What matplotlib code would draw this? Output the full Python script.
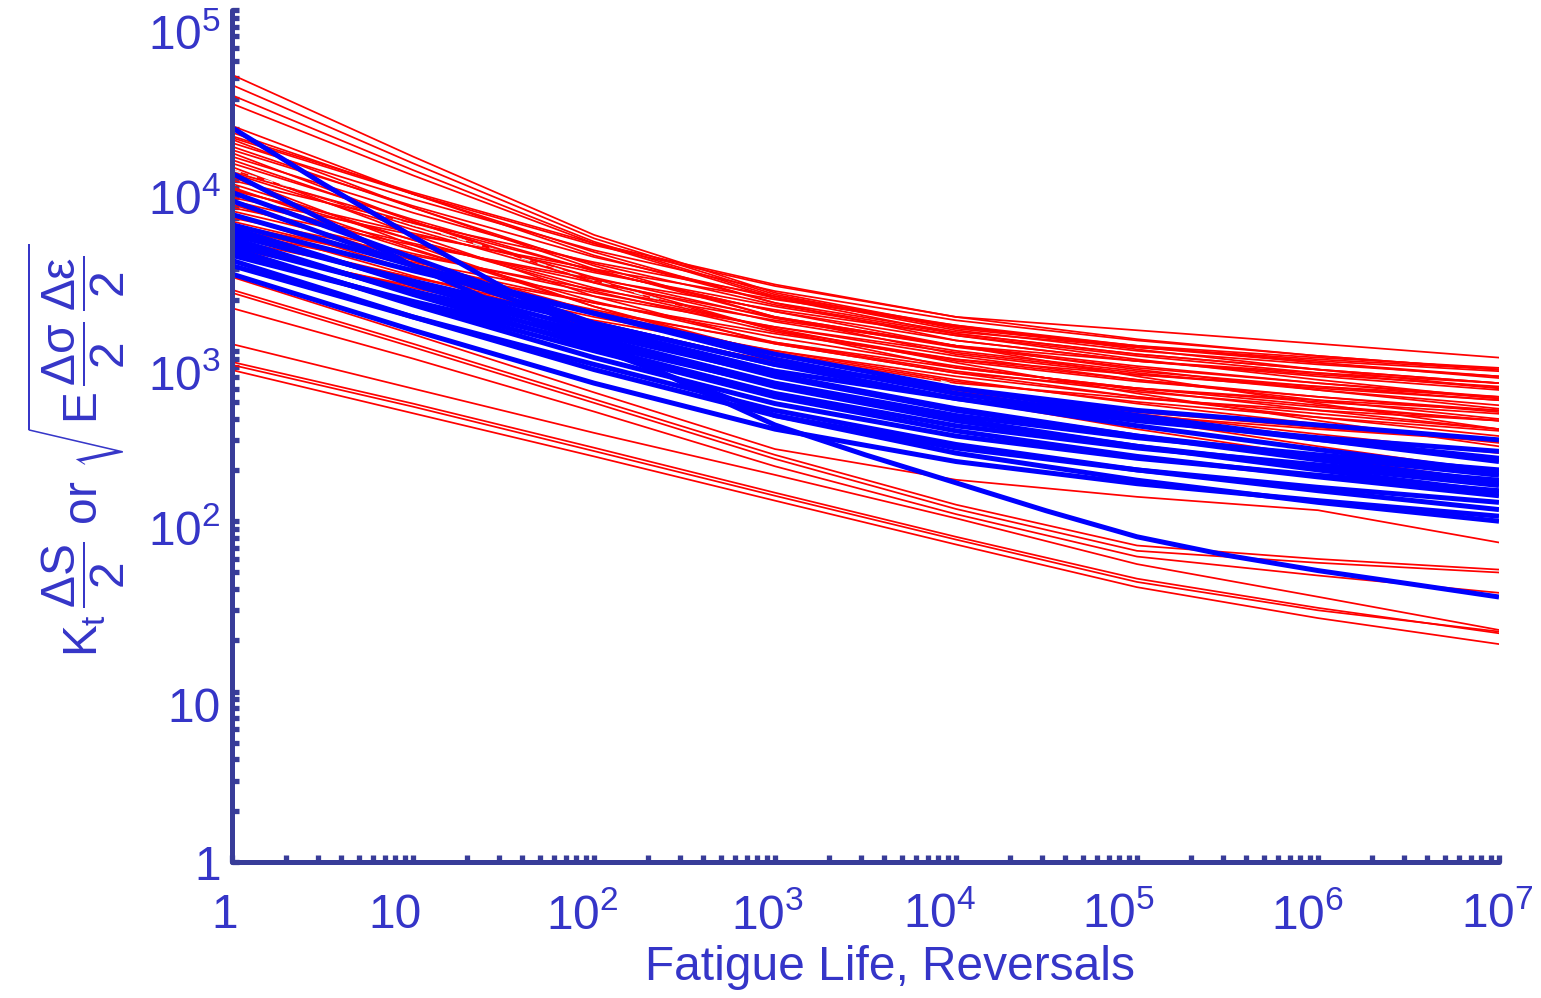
import numpy as np
import matplotlib.pyplot as plt
import matplotlib.transforms as mtransforms
from matplotlib.ticker import LogLocator, NullFormatter

plt.rcParams['font.family'] = ['Liberation Sans', 'DejaVu Sans']
plt.rcParams['mathtext.fontset'] = 'custom'
plt.rcParams['mathtext.rm'] = 'Liberation Sans'
plt.rcParams['mathtext.it'] = 'Liberation Sans'
plt.rcParams['mathtext.sf'] = 'Liberation Sans'
plt.rcParams['mathtext.bf'] = 'Liberation Sans:bold'

axis_color = '#383c99'
text_color = '#3535c8'

# fatigue life points (reversals) where every curve is sampled
reversals = [1, 1e1, 1e2, 1e3, 1e4, 1e5, 1e6, 1e7]

# notched-specimen curves, highest starting group
red_high = [
    [41700, 13800, 4790, 2190, 1380, 1070, 912, 794],
    [36300, 12600, 4570, 2140, 1350, 1050, 871, 759],
    [31600, 11500, 4370, 2090, 1320, 1000, 832, 708],
    [28200, 10700, 4270, 2040, 1260, 955, 776, 646],
]

# main band of notched-specimen curves
red_band = [
    [17800, 8320, 4170, 2400, 1580, 1320, 1100, 912],
    [20900, 8320, 3630, 1910, 1290, 1050, 891, 776],
    [19100, 8320, 3800, 1910, 1150, 871, 724, 617],
    [18200, 8510, 4270, 2450, 1580, 1170, 933, 776],
    [17400, 6920, 3020, 1580, 1070, 871, 741, 646],
    [16600, 7760, 3890, 2240, 1510, 1150, 933, 776],
    [15800, 6920, 3160, 1580, 955, 724, 603, 513],
    [15100, 7080, 3550, 2040, 1380, 1050, 851, 708],
    [14500, 5750, 2510, 1320, 891, 724, 617, 537],
    [13800, 6460, 3240, 1860, 1260, 955, 776, 646],
    [13200, 5750, 2630, 1320, 794, 603, 501, 427],
    [12600, 5890, 2950, 1700, 1150, 871, 708, 589],
    [12000, 4790, 2090, 1100, 741, 603, 513, 447],
    [11500, 5370, 2690, 1550, 1050, 794, 646, 537],
    [11000, 5130, 2570, 1480, 1000, 759, 617, 513],
    [10500, 4170, 1820, 955, 646, 525, 447, 389],
    [10000, 5620, 3310, 2090, 1410, 1020, 776, 603],
    [9550, 4470, 2240, 1290, 871, 661, 537, 447],
    [9120, 3980, 1820, 912, 550, 417, 347, 295],
    [8710, 4900, 2880, 1820, 1230, 891, 676, 525],
    [8320, 3890, 1950, 1120, 759, 575, 468, 389],
    [7940, 4790, 3020, 2000, 1410, 1070, 851, 692],
    [7590, 4270, 2510, 1580, 1070, 776, 589, 457],
    [7240, 3390, 1700, 977, 661, 501, 407, 339],
    [6920, 4170, 2630, 1740, 1230, 933, 741, 603],
    [6610, 3720, 2190, 1380, 933, 676, 513, 398],
    [6310, 2950, 1480, 851, 575, 437, 355, 295],
    [6030, 3630, 2290, 1510, 1070, 813, 646, 525],
    [5750, 3240, 1910, 1200, 813, 589, 447, 347],
    [5500, 3310, 2090, 1380, 977, 741, 589, 479],
    [5250, 2950, 1740, 1100, 741, 537, 407, 316],
    [5010, 3020, 1910, 1260, 891, 676, 537, 437],
    [4790, 2690, 1580, 1000, 676, 490, 372, 288],
    [4470, 2690, 1700, 1120, 794, 603, 479, 389],
    [4170, 2340, 1380, 871, 589, 427, 324, 251],
    [3980, 2400, 1510, 1000, 708, 537, 427, 347],
    [6310, 3160, 1660, 955, 603, 398, 275, 195],
    [5500, 2750, 1450, 832, 525, 347, 240, 170],
    [11200, 5620, 2950, 1700, 1070, 708, 490, 347],
    [8910, 4470, 2340, 1350, 851, 562, 389, 275],
]

# lowest notched-specimen curves
red_low = [
    [2710, 1250, 570, 265, 175, 139, 116, 75],
    [2280, 1100, 520, 245, 125, 72, 60, 52],
    [2190, 1050, 495, 232, 118, 67, 57, 50],
    [1780, 900, 440, 210, 110, 62, 48, 38],
    [1095, 600, 330, 187, 104, 56, 36, 23],
    [860, 490, 270, 147, 81, 46, 31, 22],
    [826, 470, 258, 141, 78, 44, 30, 22.5],
    [771, 430, 240, 132, 73, 41, 27, 19],
]

# smooth-specimen curves
blue_curves = [
    [11000, 3160, 1050, 417, 251, 174, 129, 100],
    [8510, 3510, 1450, 832, 603, 447, 367, 300],
    [7590, 3160, 1380, 759, 525, 389, 309, 257],
    [6310, 3160, 1660, 891, 562, 398, 302, 234],
    [5500, 2950, 1660, 955, 603, 417, 302, 224],
    [5250, 2450, 1200, 646, 417, 309, 245, 200],
    [5010, 2510, 1320, 708, 447, 316, 240, 186],
    [4790, 2570, 1450, 832, 525, 363, 263, 195],
    [4570, 2140, 1050, 562, 363, 269, 214, 174],
    [4370, 2190, 1150, 617, 389, 275, 209, 162],
    [4170, 2240, 1260, 724, 457, 316, 229, 170],
    [3980, 1860, 912, 490, 316, 234, 186, 151],
    [3800, 1910, 1000, 537, 339, 240, 182, 141],
    [3630, 1950, 1100, 631, 398, 275, 200, 148],
    [3390, 1580, 776, 417, 269, 200, 158, 129],
    [3160, 1580, 832, 447, 282, 200, 151, 117],
    [2820, 1320, 646, 347, 224, 166, 132, 107],
]

# steepest smooth-specimen curve, read at half decades
steep_life = [1, 3.16, 1e1, 31.6, 1e2, 316, 1e3, 3160, 1e4, 31600,
              1e5, 316000, 1e6, 3160000, 1e7]
steep_curve = [20400, 9600, 4680, 2350, 1200, 640, 367, 245, 168, 115,
               81, 63, 51.3, 43, 35.9]

mean_curve = [11500, 5500, 2600, 1240, 630, 370, 250, 180]

x_ticks = [1, 1e1, 1e2, 1e3, 1e4, 1e5, 1e6, 1e7]
x_tick_labels = ['1', '10', r'$10^{2}$', r'$10^{3}$', r'$10^{4}$',
                 r'$10^{5}$', r'$10^{6}$', r'$10^{7}$']
y_ticks = [1, 1e1, 1e2, 1e3, 1e4, 1e5]
y_tick_labels = ['1', '10', r'$10^{2}$', r'$10^{3}$', r'$10^{4}$', r'$10^{5}$']

# small pixel nudges of the tick labels
x_label_shift = [-7, -18, -12, -8, -16, -19, -11, -2]
y_label_drop = [0, 13, 6, 21, 17, 22]

fig = plt.figure(figsize=(15.41, 9.98), dpi=100)
ax = fig.add_axes([232 / 1541, 136 / 998, 1267 / 1541, 852 / 998])

for i, c in enumerate(red_high + red_band + red_low):
    ax.plot(reversals, c, color='#ff0000', lw=1.25, solid_joinstyle='round')
    if i == 20:
        ax.plot(reversals, mean_curve, color='#dff4f4', lw=1.1,
                dashes=(6, 5))
for c in blue_curves:
    ax.plot(reversals, c, color='#0000ff', lw=3.6, solid_joinstyle='round',
            solid_capstyle='butt')
ax.plot(steep_life, steep_curve, color='#0000ff', lw=3.6,
        solid_joinstyle='round', solid_capstyle='butt')

ax.set_xscale('log')
ax.set_yscale('log')
ax.set_xlim(1, 1e7)
ax.set_ylim(1, 1e5)

ax.set_xticks(x_ticks, x_tick_labels)
ax.set_yticks(y_ticks, y_tick_labels)
ax.xaxis.set_minor_locator(LogLocator(base=10, subs=np.arange(2, 10), numticks=100))
ax.yaxis.set_minor_locator(LogLocator(base=10, subs=np.arange(2, 10), numticks=100))
ax.xaxis.set_minor_formatter(NullFormatter())
ax.yaxis.set_minor_formatter(NullFormatter())

ax.tick_params(which='both', direction='in', length=5, width=3.8,
               color=axis_color, labelcolor=text_color, labelsize=34.5)
ax.tick_params(axis='x', pad=22)
ax.tick_params(axis='y', pad=8)

for tick, dx in zip(ax.xaxis.get_major_ticks(), x_label_shift):
    off = mtransforms.ScaledTranslation(dx / 100, 0, fig.dpi_scale_trans)
    tick.label1.set_transform(tick.label1.get_transform() + off)
for tick, dy in zip(ax.yaxis.get_major_ticks(), y_label_drop):
    off = mtransforms.ScaledTranslation(0, -dy / 100, fig.dpi_scale_trans)
    tick.label1.set_transform(tick.label1.get_transform() + off)

for side in ['top', 'right']:
    ax.spines[side].set_visible(False)
for side in ['left', 'bottom']:
    ax.spines[side].set_linewidth(3.6)
    ax.spines[side].set_color(axis_color)
    ax.spines[side].set_capstyle('round')

fig.text(890 / 1541, 1 - 968 / 998, 'Fatigue Life, Reversals', ha='center',
         va='center', fontsize=34.5, color=text_color)
fig.text(77 / 1541, 1 - 450 / 998,
         r'$K_t\,\dfrac{\Delta S}{2}$ or $\sqrt{E\,\dfrac{\Delta\sigma}{2}\,\dfrac{\Delta\varepsilon}{2}}$',
         rotation=90, ha='center', va='center', fontsize=34.5, color=text_color)

fig.savefig('out.png', dpi=100)
